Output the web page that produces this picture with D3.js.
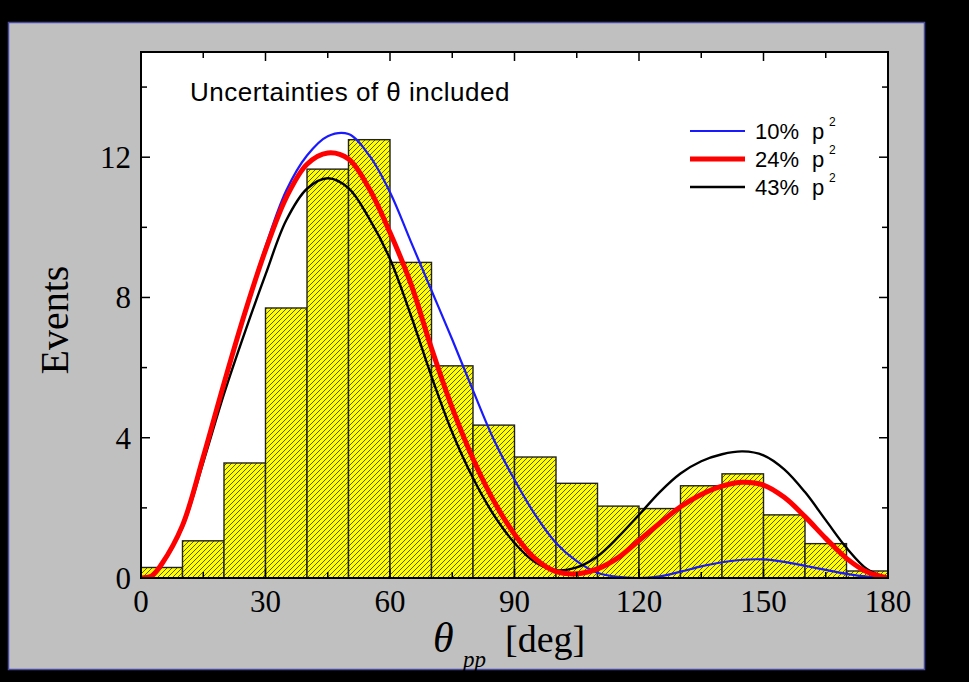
<!DOCTYPE html>
<html>
<head>
<meta charset="utf-8">
<script src="https://cdn.jsdelivr.net/npm/d3@7"></script>
<style>
  html, body { margin: 0; padding: 0; background: #000; }
  svg { display: block; }
</style>
</head>
<body>
<svg id="chart" width="969" height="682"></svg>
<script>
// Histogram of measured events, 10-degree bins
const binStarts = [0, 10, 20, 30, 40, 50, 60, 70, 80, 90, 100, 110, 120, 130, 140, 150, 160, 170];
const binWidth = 10;
const eventCounts = [0.3, 1.06, 3.28, 7.7, 11.66, 12.5, 9.0, 6.05, 4.36, 3.45, 2.7, 2.05, 1.98, 2.63, 2.97, 1.8, 0.98, 0.2];

// Model curves sampled in angle (deg)
const curveAngles = [0, 2.5, 5, 10, 15, 20, 25, 30, 35, 40, 45, 50, 55, 60, 65, 70, 75, 80, 85, 90,
  95, 100, 105, 110, 115, 120, 125, 130, 135, 140, 145, 150, 155, 160, 165, 170, 175, 180];
const model10 = [0, 0.05, 0.4, 1.5, 3.45, 5.55, 7.55, 9.45, 11.05, 12.05, 12.6, 12.66, 12.05, 11.0, 9.6, 8.2, 6.8, 5.35, 3.95, 2.8,
  1.8, 1.0, 0.48, 0.15, 0.03, 0.0, 0.05, 0.18, 0.33, 0.45, 0.52, 0.53, 0.46, 0.35, 0.23, 0.12, 0.04, 0];
const model24 = [0, 0.05, 0.4, 1.5, 3.45, 5.55, 7.55, 9.35, 10.85, 11.8, 12.12, 11.95, 11.1, 9.85, 8.4, 6.55, 4.85, 3.4, 2.2, 1.25,
  0.55, 0.18, 0.12, 0.26, 0.58, 1.07, 1.56, 2.03, 2.38, 2.62, 2.73, 2.65, 2.3, 1.75, 1.13, 0.56, 0.17, 0];
const model43 = [0, 0.05, 0.38, 1.45, 3.3, 5.25, 7.0, 8.65, 10.2, 11.1, 11.4, 11.12, 10.25, 9.1, 7.5, 5.75, 4.15, 2.85, 1.8, 1.0,
  0.45, 0.22, 0.3, 0.62, 1.17, 1.8, 2.45, 2.98, 3.33, 3.53, 3.61, 3.5, 3.1, 2.45, 1.65, 0.86, 0.25, 0];

const legendLabels = ["10%", "24%", "43%"];
const xTicks = [0, 30, 60, 90, 120, 150, 180];
const yTicks = [0, 4, 8, 12];

const svg = d3.select("#chart");
const W = 969, H = 682;

// grey panel on black background
svg.append("rect").attr("x", 0).attr("y", 0).attr("width", W).attr("height", H).attr("fill", "#000");
svg.append("rect").attr("x", 8.5).attr("y", 22.5).attr("width", 916).attr("height", 647)
  .attr("fill", "#c0c0c0").attr("stroke", "#4a4aa0").attr("stroke-width", 1.5);

const plot = { left: 141, right: 888, top: 52, bottom: 578 };
const x = d3.scaleLinear().domain([0, 180]).range([plot.left, plot.right]);
const y = d3.scaleLinear().domain([0, 15]).range([plot.bottom, plot.top]);

// plotting area
svg.append("rect").attr("x", plot.left).attr("y", plot.top)
  .attr("width", plot.right - plot.left).attr("height", plot.bottom - plot.top).attr("fill", "#fff");

// hatch pattern for the bars
const defs = svg.append("defs");
const hp = 5;
const pat = defs.append("pattern").attr("id", "hatch").attr("patternUnits", "userSpaceOnUse")
  .attr("width", hp).attr("height", hp);
pat.append("rect").attr("width", hp).attr("height", hp).attr("fill", "#ffff00");
pat.append("path").attr("d", `M-1,1 L1,-1 M0,${hp} L${hp},0 M${hp - 1},${hp + 1} L${hp + 1},${hp - 1}`)
  .attr("stroke", "#45452a").attr("stroke-width", 0.9);

svg.append("clipPath").attr("id", "clip").append("rect")
  .attr("x", plot.left).attr("y", plot.top).attr("width", plot.right - plot.left).attr("height", plot.bottom - plot.top);

const g = svg.append("g").attr("clip-path", "url(#clip)");

g.selectAll("rect.bar").data(binStarts).join("rect").attr("class", "bar")
  .attr("x", d => x(d))
  .attr("y", (d, i) => y(eventCounts[i]))
  .attr("width", d => x(d + binWidth) - x(d))
  .attr("height", (d, i) => y(0) - y(eventCounts[i]))
  .attr("fill", "url(#hatch)")
  .attr("stroke", "#222").attr("stroke-width", 1.4);

const line = d3.line().x(d => x(d[0])).y(d => y(Math.max(0, d[1]))).curve(d3.curveCatmullRom.alpha(0.5));
const series = [
  { vals: model10, color: "#1a1aff", width: 2.2 },
  { vals: model43, color: "#000", width: 2.4 },
  { vals: model24, color: "#ff0000", width: 5 }
];
series.forEach(s => {
  g.append("path").datum(curveAngles.map((a, i) => [a, s.vals[i]]))
    .attr("d", line).attr("fill", "none").attr("stroke", s.color)
    .attr("stroke-width", s.width).attr("stroke-linejoin", "round");
});

// axes with inward ticks on all four sides
const tickColor = "#000";
const major = 9, minor = 6;
const xMinor = d3.range(15, 180, 30);
const yMinor = [2, 6, 10, 14];
const axisG = svg.append("g");
function xTick(v, len) {
  axisG.append("line").attr("x1", x(v)).attr("x2", x(v)).attr("y1", plot.bottom).attr("y2", plot.bottom - len)
    .attr("stroke", tickColor).attr("stroke-width", 1.5);
  axisG.append("line").attr("x1", x(v)).attr("x2", x(v)).attr("y1", plot.top).attr("y2", plot.top + len)
    .attr("stroke", tickColor).attr("stroke-width", 1.5);
}
function yTick(v, len) {
  axisG.append("line").attr("x1", plot.left).attr("x2", plot.left + len).attr("y1", y(v)).attr("y2", y(v))
    .attr("stroke", tickColor).attr("stroke-width", 1.5);
  axisG.append("line").attr("x1", plot.right).attr("x2", plot.right - len).attr("y1", y(v)).attr("y2", y(v))
    .attr("stroke", tickColor).attr("stroke-width", 1.5);
}
xTicks.forEach(v => xTick(v, major));
xMinor.forEach(v => xTick(v, minor));
yTicks.forEach(v => yTick(v, major));
yMinor.forEach(v => yTick(v, minor));

svg.append("rect").attr("x", plot.left).attr("y", plot.top)
  .attr("width", plot.right - plot.left).attr("height", plot.bottom - plot.top)
  .attr("fill", "none").attr("stroke", "#000").attr("stroke-width", 2);

const serif = "'Liberation Serif', 'Times New Roman', serif";
const sans = "'Liberation Sans', Arial, sans-serif";

svg.append("g").selectAll("text").data(xTicks).join("text")
  .attr("x", d => x(d)).attr("y", 612).attr("text-anchor", "middle")
  .attr("font-family", serif).attr("font-size", 31).attr("fill", "#000").text(d => d);
svg.append("g").selectAll("text").data(yTicks).join("text")
  .attr("x", 131).attr("y", d => y(d) + 11).attr("text-anchor", "end")
  .attr("font-family", serif).attr("font-size", 31).attr("fill", "#000").text(d => d);

// axis titles
svg.append("text").attr("transform", "translate(68,320) rotate(-90)").attr("text-anchor", "middle")
  .attr("font-family", serif).attr("font-size", 40).attr("fill", "#000").text("Events");
const xt = svg.append("g").attr("font-family", serif).attr("fill", "#000");
xt.append("text").attr("x", 433).attr("y", 652).attr("font-size", 42).attr("font-style", "italic").text("θ");
xt.append("text").attr("x", 463).attr("y", 667).attr("font-size", 23).attr("font-style", "italic").text("pp");
xt.append("text").attr("x", 505).attr("y", 652).attr("font-size", 38).text("[deg]");

svg.append("text").attr("x", 190).attr("y", 101).attr("font-family", sans).attr("font-size", 26)
  .attr("letter-spacing", 0.5).attr("fill", "#000").text("Uncertainties of θ included");

// legend
const legend = svg.append("g").attr("font-family", sans).attr("fill", "#000");
const legendRows = [
  { label: legendLabels[0], color: "#1a1aff", width: 2.2 },
  { label: legendLabels[1], color: "#ff0000", width: 5 },
  { label: legendLabels[2], color: "#000", width: 2.4 }
];
legendRows.forEach((r, i) => {
  const yy = 131 + i * 28;
  legend.append("line").attr("x1", 690).attr("x2", 745).attr("y1", yy).attr("y2", yy)
    .attr("stroke", r.color).attr("stroke-width", r.width);
  legend.append("text").attr("x", 755).attr("y", yy + 8).attr("font-size", 22).text(r.label);
  legend.append("text").attr("x", 812).attr("y", yy + 8).attr("font-size", 22).text("p");
  legend.append("text").attr("x", 829).attr("y", yy - 5).attr("font-size", 12).text("2");
});
</script>
</body>
</html>
